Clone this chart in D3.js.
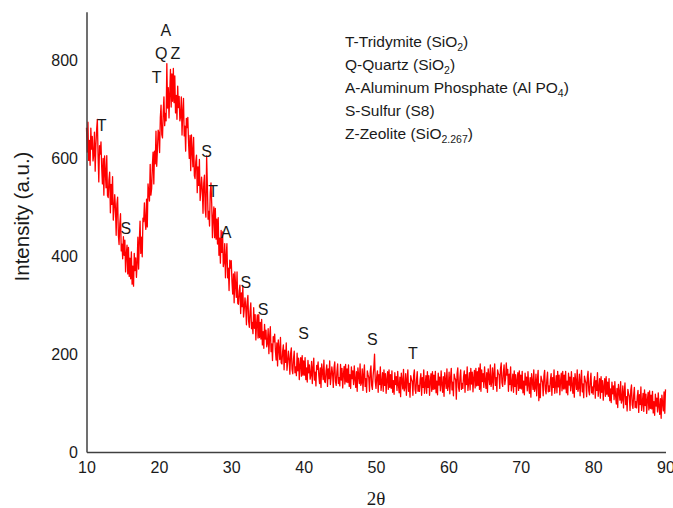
<!DOCTYPE html>
<html lang="en">
<head>
<meta charset="utf-8">
<title>XRD pattern</title>
<script src="https://d3js.org/d3.v7.min.js"></script>
<style>
  body { margin: 0; background: #fff; }
  svg { display: block; }
  .tick text { font-family: "Liberation Sans", Arial, sans-serif; font-size: 16px; fill: #1a1a1a; }
  .domain { stroke: #404040; stroke-width: 1.5; }
  .peak { font-family: "Liberation Sans", Arial, sans-serif; font-size: 16px; fill: #1a1a1a; }
  .legend { font-family: "Liberation Sans", Arial, sans-serif; font-size: 15.5px; fill: #1a1a1a; }
</style>
</head>
<body>
<script>
// scan settings (2theta, degrees)
var thetaStart = 10;
var thetaStep = 0.1;

// intensity every 0.1 deg from 10.0 to 90.0
var intensity = [
  663, 613, 674, 596, 637, 586, 662, 619, 645, 595,
  608, 654, 574, 627, 659, 680, 604, 552, 626, 609,
  634, 581, 548, 600, 525, 605, 573, 540, 606, 524,
  520, 556, 572, 489, 547, 506, 563, 474, 496, 526,
  499, 443, 507, 521, 444, 424, 466, 487, 411, 425,
  395, 440, 402, 433, 368, 404, 423, 364, 418, 359,
  396, 354, 409, 343, 380, 339, 406, 371, 397, 357,
  387, 439, 374, 432, 472, 406, 439, 399, 478, 471,
  509, 472, 455, 517, 460, 548, 531, 513, 588, 525,
  539, 585, 613, 548, 615, 589, 656, 584, 618, 658,
  652, 612, 683, 709, 649, 642, 694, 726, 667, 692,
  677, 794, 703, 745, 683, 732, 782, 705, 773, 717,
  784, 714, 769, 693, 729, 680, 748, 704, 727, 677,
  685, 726, 648, 695, 723, 646, 666, 615, 682, 663,
  684, 632, 600, 647, 575, 648, 616, 583, 643, 565,
  559, 593, 607, 530, 583, 545, 598, 514, 534, 562,
  537, 488, 549, 566, 496, 480, 605, 545, 476, 492,
  462, 530, 550, 508, 438, 480, 501, 438, 498, 435,
  476, 425, 479, 402, 437, 386, 453, 408, 450, 379,
  388, 426, 356, 400, 426, 356, 376, 330, 392, 376,
  391, 348, 323, 364, 305, 368, 342, 316, 368, 304,
  302, 329, 341, 283, 325, 297, 339, 276, 293, 315,
  297, 260, 307, 320, 267, 255, 287, 305, 252, 265,
  242, 295, 253, 281, 229, 262, 280, 233, 281, 234,
  265, 231, 271, 219, 246, 212, 261, 231, 249, 215,
  222, 252, 201, 235, 256, 205, 221, 187, 236, 225,
  241, 207, 188, 223, 176, 229, 210, 189, 234, 182,
  180, 206, 219, 168, 208, 183, 223, 167, 184, 206,
  190, 159, 201, 213, 169, 160, 190, 206, 162, 174,
  156, 202, 166, 192, 148, 177, 193, 155, 197, 157,
  186, 157, 193, 148, 172, 143, 187, 162, 178, 149,
  157, 185, 140, 172, 192, 147, 163, 135, 177, 169,
  184, 156, 140, 172, 132, 180, 164, 148, 188, 144,
  142, 166, 178, 134, 170, 150, 186, 138, 154, 174,
  160, 132, 172, 184, 144, 136, 164, 180, 140, 152,
  135, 179, 147, 171, 131, 159, 175, 139, 179, 143,
  170, 142, 178, 134, 158, 130, 174, 150, 166, 138,
  176, 148, 132, 164, 124, 172, 156, 140, 180, 136,
  142, 170, 126, 158, 178, 134, 150, 122, 166, 158,
  152, 124, 164, 176, 136, 128, 156, 172, 200, 144,
  130, 154, 166, 122, 158, 138, 174, 126, 142, 162,
  124, 168, 136, 160, 120, 148, 164, 128, 168, 132,
  158, 130, 166, 122, 146, 118, 162, 138, 154, 126,
  165, 137, 121, 153, 113, 161, 145, 129, 169, 125,
  132, 160, 116, 148, 168, 124, 140, 112, 156, 148,
  144, 116, 156, 168, 128, 120, 148, 164, 124, 136,
  124, 148, 160, 116, 152, 132, 168, 120, 136, 156,
  120, 164, 132, 156, 116, 144, 160, 124, 164, 128,
  157, 129, 165, 121, 145, 117, 161, 137, 153, 125,
  166, 138, 122, 154, 114, 162, 146, 130, 170, 126,
  135, 163, 119, 151, 171, 127, 143, 115, 159, 151,
  148, 108, 160, 172, 132, 124, 152, 168, 128, 140,
  130, 154, 166, 122, 158, 138, 174, 126, 142, 162,
  127, 171, 139, 163, 123, 151, 167, 131, 171, 135,
  164, 136, 172, 128, 180, 124, 168, 144, 160, 132,
  174, 146, 130, 162, 122, 170, 154, 138, 178, 134,
  144, 172, 128, 160, 180, 136, 152, 124, 168, 160,
  158, 130, 170, 182, 142, 134, 162, 178, 138, 150,
  182, 157, 169, 124, 159, 138, 174, 125, 140, 159,
  122, 166, 134, 158, 118, 146, 162, 126, 166, 130,
  157, 129, 165, 121, 145, 117, 161, 137, 153, 125,
  164, 136, 120, 152, 112, 160, 144, 128, 168, 124,
  131, 159, 115, 147, 167, 105, 139, 111, 155, 147,
  143, 115, 155, 167, 127, 119, 147, 163, 123, 135,
  124, 148, 160, 116, 152, 132, 168, 120, 136, 156,
  121, 165, 133, 157, 117, 145, 161, 125, 165, 129,
  157, 129, 165, 121, 145, 117, 161, 137, 153, 125,
  164, 136, 120, 152, 112, 160, 144, 128, 168, 124,
  131, 159, 115, 147, 167, 123, 139, 111, 155, 147,
  141, 113, 153, 165, 125, 117, 145, 161, 121, 133,
  118, 142, 154, 110, 146, 126, 162, 114, 130, 150,
  110, 154, 122, 146, 106, 134, 150, 114, 154, 118,
  143, 114, 150, 105, 129, 101, 143, 119, 135, 107,
  144, 115,  98, 130,  91, 138, 122, 106, 144, 100,
  107, 135,  90, 122, 141,  97, 113,  84, 128, 119,
  114,  85, 126, 137,  97,  89, 116, 132,  91, 103,
   90, 114, 126,  81, 117,  97, 133,  85, 100, 120,
   83, 127,  95, 118,  79, 106, 122,  86, 125,  89,
  116,  88, 124,  80, 103,  75, 118,  94, 110,  82,
  121,  93,  77, 109,  69, 116, 100,  84, 123,  79,
  128
];

var xTicks = [10, 20, 30, 40, 50, 60, 70, 80, 90];
var yTicks = [0, 200, 400, 600, 800];

// phase marks above the peaks
var peakPhase = ["T", "S", "T", "QZ", "A", "S", "T", "A", "S", "S", "S", "S", "T"];
var peakTheta = [12.1, 15.45, 19.7, 21.2, 20.95, 26.6, 27.5, 29.3, 32.0, 34.4, 40.0, 49.5, 55.1];
var peakLevel = [667, 457, 766, 815, 862, 615, 533, 449, 347, 292, 243, 231, 202];

// legend rows: text, subscript, closing text
var legendText = ["T-Tridymite (SiO", "Q-Quartz (SiO", "A-Aluminum Phosphate (Al PO", "S-Sulfur (S8)", "Z-Zeolite (SiO"];
var legendSub = ["2", "2", "4", "", "2.267"];
var legendEnd = [")", ")", ")", "", ")"];

var width = 673;
var height = 508;

var svg = d3.select("body").append("svg")
  .attr("width", width)
  .attr("height", height);

var x = d3.scaleLinear()
  .domain([10, 90])
  .range([86.5, 665.5]);

var y = d3.scaleLinear()
  .domain([0, 900])
  .range([452, 11.7]);

// red trace
var line = d3.line()
  .x(function(d, i) { return x(thetaStart + i * thetaStep); })
  .y(function(d) { return y(d); });

svg.append("path")
  .datum(intensity)
  .attr("fill", "none")
  .attr("stroke", "#ff0000")
  .attr("stroke-width", 1.3)
  .attr("stroke-linejoin", "round")
  .attr("d", line);

// axes, no tick marks
svg.append("g")
  .attr("transform", "translate(0,452)")
  .call(d3.axisBottom(x).tickValues(xTicks).tickSize(0).tickSizeOuter(0).tickPadding(9.5));

svg.append("g")
  .attr("transform", "translate(86.5,0)")
  .call(d3.axisLeft(y).tickValues(yTicks).tickSize(0).tickSizeOuter(0).tickPadding(8.5));

svg.selectAll(".tick line").remove();

// axis titles
svg.append("text")
  .attr("transform", "translate(29,216.5) rotate(-90)")
  .attr("text-anchor", "middle")
  .style("font-family", "'Liberation Sans', Arial, sans-serif")
  .style("font-size", "20.5px")
  .style("fill", "#1a1a1a")
  .text("Intensity (a.u.)");

svg.append("text")
  .attr("x", 376)
  .attr("y", 504.5)
  .attr("text-anchor", "middle")
  .style("font-family", "'Liberation Serif', 'Times New Roman', serif")
  .style("font-size", "19px")
  .style("fill", "#1a1a1a")
  .text("2\u03b8");

// peak labels
var marks = svg.append("g");
peakPhase.forEach(function(p, i) {
  var t = marks.append("text")
    .attr("class", "peak")
    .attr("x", x(peakTheta[i]))
    .attr("y", y(peakLevel[i]))
    .attr("dy", "0.36em")
    .attr("text-anchor", "middle");
  if (p.length > 1) {
    t.append("tspan").text(p[0]);
    t.append("tspan").attr("dx", 3).text(p[1]);
  } else {
    t.text(p);
  }
});

// legend
var leg = svg.append("g");
legendText.forEach(function(s, i) {
  var t = leg.append("text")
    .attr("class", "legend")
    .attr("x", 345)
    .attr("y", 47 + i * 23);
  t.append("tspan").text(s);
  if (legendSub[i]) {
    t.append("tspan").attr("dy", 4).style("font-size", "10.5px").text(legendSub[i]);
    t.append("tspan").attr("dy", -4).text(legendEnd[i]);
  }
});
</script>
</body>
</html>
